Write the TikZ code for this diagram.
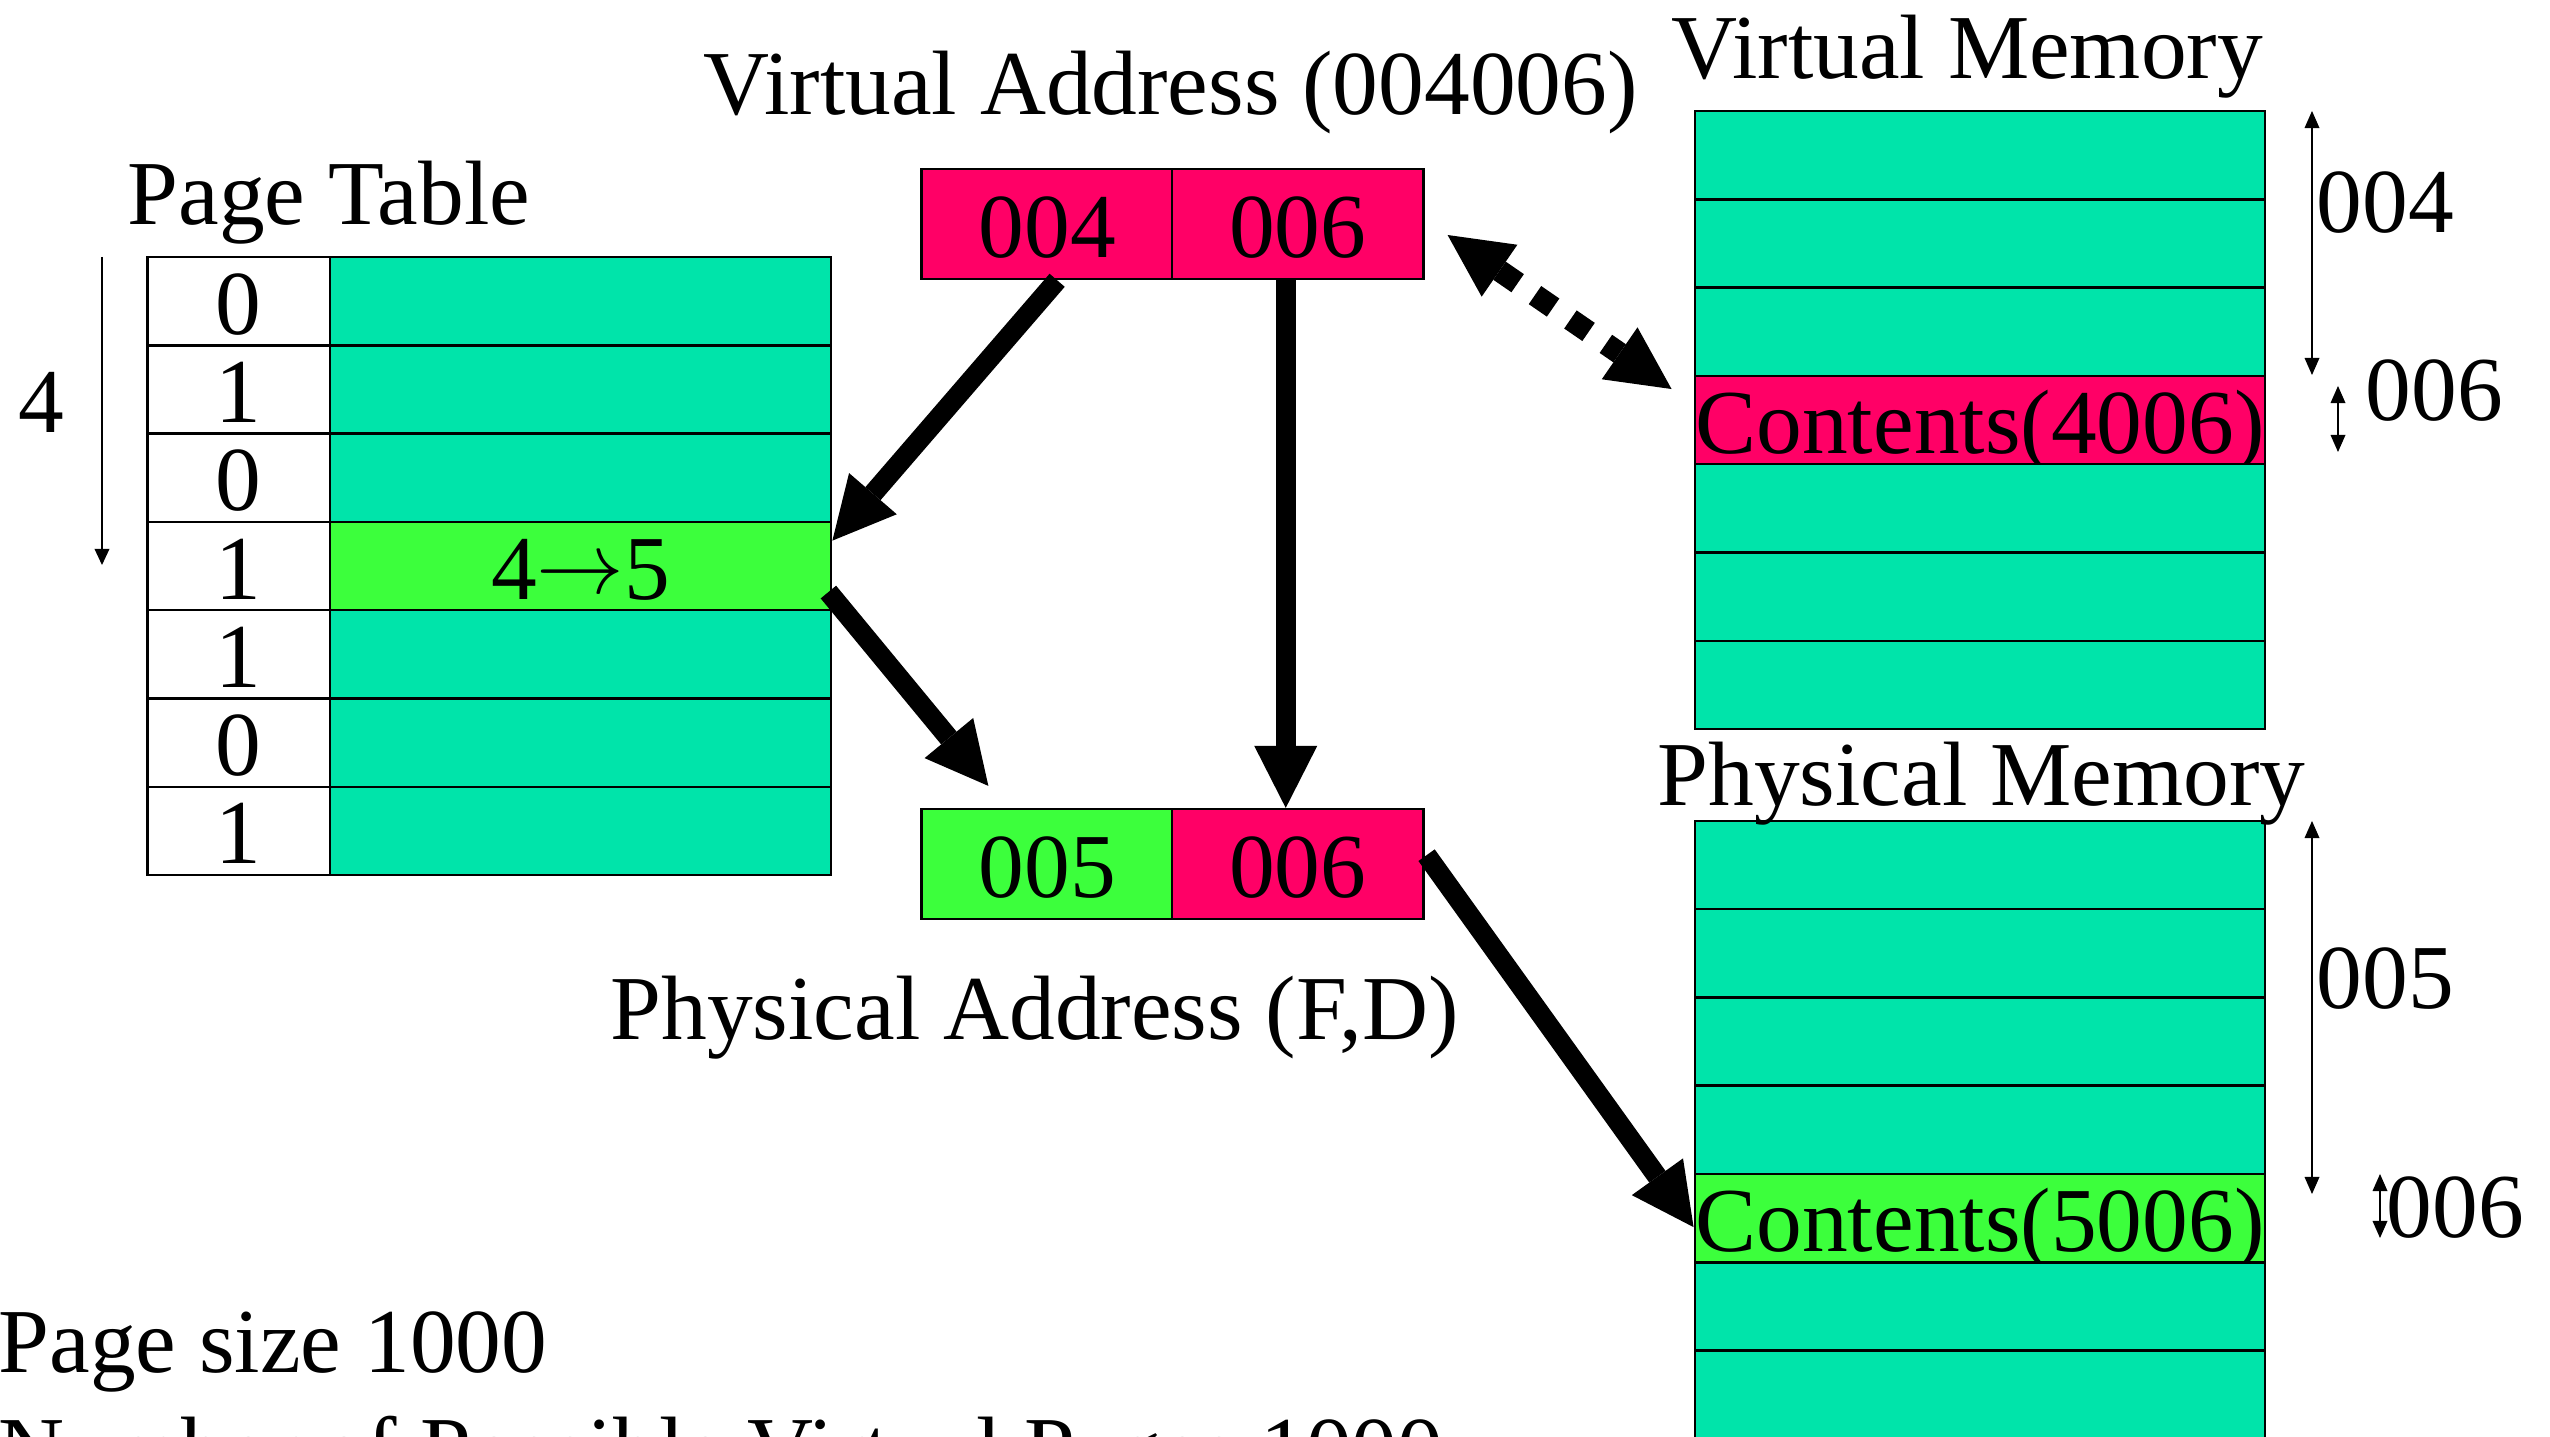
\documentclass[tikz,border=0pt]{standalone}
\usepackage{fontspec}
\setmainfont{Liberation Serif}
\usetikzlibrary{arrows.meta}
\definecolor{memteal}{RGB}{0,228,170}
\definecolor{memred}{RGB}{255,0,102}
\definecolor{memgreen}{RGB}{60,255,60}
\begin{document}
\begin{tikzpicture}[x=0.01cm,y=-0.01cm,
  every node/.style={font=\fontsize{26pt}{31pt}\selectfont},
  cell/.style={draw=black,line width=0.025cm,inner sep=0pt,minimum height=0.883cm,
    text height=0.66cm,text depth=0pt},
  lbl/.style={inner sep=0pt,anchor=base west},
  bigarrow/.style={line width=0.2cm,
    arrows={-Triangle[length=0.62cm,width=0.63cm,line width=0pt]}},
  dotarrow/.style={line width=0.22cm,dash pattern=on 0.22cm off 0.21cm,
    arrows={Triangle[length=0.63cm,width=0.63cm,line width=0pt]-Triangle[length=0.63cm,width=0.63cm,line width=0pt]}},
  thinone/.style={line width=0.02cm,
    arrows={-Triangle[length=0.16cm,width=0.15cm,line width=0pt]}},
  thintwo/.style={line width=0.02cm,
    arrows={Triangle[length=0.17cm,width=0.15cm,line width=0pt]-Triangle[length=0.17cm,width=0.15cm,line width=0pt]}}]
\useasboundingbox (0,0) rectangle (2550,1437);
\clip (0,0) rectangle (2550,1437);

% ---------- Page table ----------
\foreach \i/\b/\c/\t in {0/0/memteal/{},1/1/memteal/{},2/0/memteal/{},3/1/memgreen/{4\raisebox{0.06em}{$\rightarrow$}5},4/1/memteal/{},5/0/memteal/{},6/1/memteal/{}}{
  \node[cell,minimum width=1.825cm,fill=white] (pti\i) at (238.75,{301.15+88.3*\i}) {\b};
  \node[cell,minimum width=5.01cm,fill=\c] (ptv\i) at (580.5,{301.15+88.3*\i}) {\t};
}
\node[lbl] (tpt) at (127,224.5) {Page Table};
\node[inner sep=0pt,anchor=base] (tfour) at (41,433) {4};
\coordinate (pa) at (102,257);
\coordinate (pb) at (102,565);
\draw[thinone] (pa) -- (pb);

% ---------- Virtual address ----------
\node[cell,minimum width=2.51cm,minimum height=1.1cm,fill=memred] (va1) at (1047.15,224) {004};
\node[cell,minimum width=2.51cm,minimum height=1.1cm,fill=memred] (va2) at (1297.75,224) {006};
\node[lbl] (tva) at (703,115) {Virtual Address (004006)};

% ---------- Physical address ----------
\node[cell,minimum width=2.51cm,minimum height=1.1cm,fill=memgreen] (pa1) at (1047.15,864.2) {005};
\node[cell,minimum width=2.51cm,minimum height=1.1cm,fill=memred] (pa2) at (1297.75,864.2) {006};
\node[lbl] (tpa) at (610,1040) {Physical Address (F,D)};

% ---------- Virtual memory ----------
\foreach \i/\c/\t in {0/memteal/{},1/memteal/{},2/memteal/{},3/memred/{Contents(4006)},4/memteal/{},5/memteal/{},6/memteal/{}}{
  \node[cell,minimum width=5.70cm,fill=\c] (vm\i) at (1980,{155.15+88.3*\i}) {\t};
}
\node[lbl] (tvm) at (1671,79) {Virtual Memory};
\coordinate (v4a) at (2312,111);
\coordinate (v4b) at (2312,375);
\draw[thintwo] (v4a) -- (v4b);
\node[lbl] (tv4) at (2316,233) {004};
\coordinate (v6a) at (2338,386);
\coordinate (v6b) at (2338,452);
\draw[thintwo] (v6a) -- (v6b);
\node[lbl] (tv6) at (2365,421) {006};

% ---------- Physical memory ----------
\foreach \i/\c/\t in {0/memteal/{},1/memteal/{},2/memteal/{},3/memteal/{},4/memgreen/{Contents(5006)},5/memteal/{},6/memteal/{}}{
  \node[cell,minimum width=5.70cm,fill=\c] (pm\i) at (1980,{864.95+88.3*\i}) {\t};
}
\node[lbl] (tpm) at (1657,806) {Physical Memory};
\coordinate (p5a) at (2312,821);
\coordinate (p5b) at (2312,1194);
\draw[thintwo] (p5a) -- (p5b);
\node[lbl] (tp5) at (2316,1009) {005};
\coordinate (p6a) at (2380,1174);
\coordinate (p6b) at (2380,1238);
\draw[thintwo] (p6a) -- (p6b);
\node[lbl] (tp6) at (2386,1238) {006};

% ---------- Connectors ----------
\draw[bigarrow] ([xshift=0.1cm]va1.south) -- ([yshift=-0.2cm]ptv3.north east);
\draw[bigarrow] ([xshift=-0.04cm,yshift=-0.26cm]ptv3.east) -- ([xshift=0.68cm,yshift=0.22cm]pa1.north west);
\draw[bigarrow] ([xshift=-0.12cm]va2.south) -- ([xshift=-0.12cm]pa2.north);
\draw[dotarrow] ([xshift=0.23cm,yshift=-0.11cm]va2.east) -- ([xshift=-0.22cm,yshift=0.31cm]vm3.west);
\draw[bigarrow] ([xshift=0.02cm,yshift=0.09cm]pa2.east) -- ([yshift=-0.09cm]pm4.west);

% ---------- Bottom notes ----------
\node[lbl] (tps) at (-2,1373) {Page size 1000};
\node[lbl] (tnp) at (-2,1480) {Number of Possible Virtual Pages 1000};
\end{tikzpicture}
\end{document}
